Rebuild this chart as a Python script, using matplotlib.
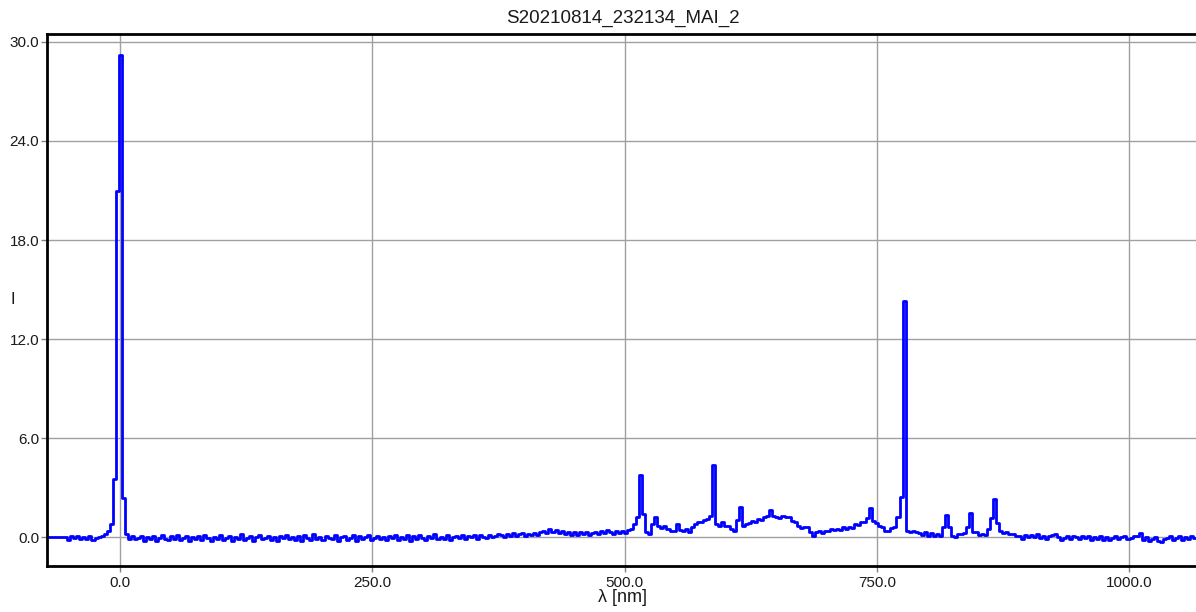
import numpy as np
import matplotlib
matplotlib.use('Agg')
import matplotlib.pyplot as plt

plt.rcParams['font.family'] = ['Liberation Sans', 'DejaVu Sans']

TITLE = 'S20210814_232134_MAI_2'

# spectrum sampled every 3 nm starting at -72 nm (one row = 30 nm)
LAMBDA_START = -72
LAMBDA_STEP = 3
intensity = [
    0.0, 0.0, 0.0, 0.0, 0.0, 0.0, 0.0, -0.15, 0.06, -0.05,         # -72
    0.1, -0.12, 0.0, -0.08, 0.05, -0.16, -0.06, 0.0, 0.08, 0.2,    # -42
    0.4, 0.8, 3.5, 21.0, 29.2, 2.4, 0.2, -0.1, 0.05, -0.12,        # -12
    -0.06, 0.1, -0.2, 0.04, -0.12, 0.08, -0.22, -0.04, 0.12, -0.1,    # 18
    -0.18, 0.06, -0.08, 0.14, -0.16, -0.02, 0.1, -0.2, 0.0, -0.12,    # 48
    0.08, -0.14, 0.16, -0.06, -0.24, 0.04, -0.1, 0.12, -0.18, -0.04,  # 78
    0.1, -0.2, 0.02, -0.08, 0.18, -0.14, -0.04, 0.06, -0.22, 0.0,     # 108
    0.14, -0.12, -0.02, 0.08, -0.18, 0.04, -0.25, 0.1, -0.06, 0.16,   # 138
    -0.1, 0.0, -0.16, 0.06, -0.2, 0.12, -0.04, -0.14, 0.18, -0.08,    # 168
    0.04, -0.18, 0.1, -0.06, -0.12, 0.16, -0.22, 0.02, 0.08, -0.14,   # 198
    -0.02, 0.12, -0.2, 0.06, -0.1, 0.0, 0.14, -0.16, -0.06, 0.1,      # 228
    -0.12, 0.04, -0.18, 0.08, -0.04, 0.16, -0.14, 0.02, -0.08, 0.12,  # 258
    -0.2, 0.06, -0.1, 0.16, -0.04, -0.14, 0.1, -0.06, 0.18, -0.12,    # 288
    0.04, -0.08, 0.14, -0.16, 0.02, 0.1, -0.06, 0.16, -0.1, 0.06,     # 318
    0.0, 0.12, -0.08, 0.16, 0.04, -0.06, 0.14, 0.02, 0.1, 0.18,       # 348
    0.14, 0.04, 0.2, 0.08, 0.24, 0.06, 0.18, 0.26, 0.1, 0.22,         # 378
    0.12, 0.28, 0.14, 0.32, 0.4, 0.26, 0.48, 0.3, 0.44, 0.24,         # 408
    0.4, 0.2, 0.34, 0.16, 0.3, 0.12, 0.3, 0.18, 0.34, 0.14,           # 438
    0.26, 0.34, 0.18, 0.4, 0.26, 0.42, 0.3, 0.22, 0.4, 0.28,          # 468
    0.38, 0.28, 0.42, 0.5, 0.8, 1.2, 3.77, 1.4, 0.3, 0.2,             # 498
    0.8, 1.2, 0.7, 0.55, 0.7, 0.5, 0.4, 0.35, 0.8, 0.45,              # 528
    0.35, 0.5, 0.3, 0.65, 0.8, 0.95, 0.9, 1.05, 1.1, 1.3,             # 558
    4.38, 0.8, 0.7, 0.9, 0.7, 0.7, 0.5, 0.4, 1.05, 1.85,              # 588
    0.7, 0.8, 0.85, 1.0, 0.95, 1.1, 1.05, 1.2, 1.3, 1.65,             # 618
    1.3, 1.25, 1.15, 1.3, 1.2, 1.2, 1.0, 0.95, 0.7, 0.55,             # 648
    0.65, 0.6, 0.3, 0.1, 0.3, 0.35, 0.25, 0.4, 0.4, 0.5,              # 678
    0.45, 0.5, 0.45, 0.6, 0.5, 0.6, 0.55, 0.8, 0.75, 0.9,             # 708
    0.95, 1.15, 1.75, 1.0, 0.85, 0.7, 0.65, 0.4, 0.35, 0.55,          # 738
    0.6, 1.2, 2.45, 14.28, 0.4, 0.3, 0.35, 0.3, 0.25, 0.15,           # 768
    0.3, 0.1, 0.25, 0.05, 0.2, 0.1, 0.6, 1.35, 0.6, 0.05,             # 798
    0.0, 0.2, 0.2, 0.25, 0.65, 1.5, 0.3, 0.3, 0.15, 0.2,              # 828
    0.15, 0.5, 1.15, 2.3, 0.85, 0.4, 0.25, 0.3, 0.22, 0.2,            # 858
    0.1, 0.08, -0.1, 0.12, 0.0, 0.16, 0.04, 0.18, -0.04, 0.1,         # 888
    -0.08, 0.06, 0.12, 0.22, 0.04, -0.16, -0.04, 0.06, -0.12, 0.08,   # 918
    0.0, -0.1, 0.06, -0.04, 0.1, -0.16, 0.02, -0.08, 0.06, -0.14,     # 948
    0.04, -0.18, -0.06, 0.08, -0.12, 0.02, 0.1, -0.08, -0.04, 0.06,   # 978
    0.05, 0.28, -0.14, 0.0, -0.2, -0.08, 0.04, -0.22, -0.28, -0.1,    # 1008
    -0.06, 0.1, -0.16, -0.04, 0.08, -0.18, 0.0, -0.1, 0.06, -0.04,    # 1038
]
wavelength = LAMBDA_START + LAMBDA_STEP * np.arange(len(intensity))

x_ticks = [0, 250, 500, 750, 1000]
y_ticks = [0, 6, 12, 18, 24, 30]

fig = plt.figure(figsize=(11.96, 6.12), dpi=100)
ax = fig.add_axes([47 / 1196, 46 / 612, 1 - 47 / 1196, 532 / 612])

ax.plot(wavelength, intensity, color='#0000ff', lw=2.0, drawstyle='steps-mid')

ax.set_xlim(-72.6, 1066.4)
ax.set_ylim(-1.74, 30.48)
ax.set_xticks(x_ticks)
ax.set_xticklabels([f'{v:.1f}' for v in x_ticks])
ax.set_yticks(y_ticks)
ax.set_yticklabels([f'{v:.1f}' for v in y_ticks])
ax.grid(True, color='#a0a0a0', lw=1)
ax.set_axisbelow(True)

for side in ['left', 'bottom', 'top']:
    ax.spines[side].set_linewidth(2)
    ax.spines[side].set_color('black')
ax.spines['right'].set_visible(False)

ax.tick_params(direction='out', length=4, width=1, color='#808080',
               labelsize=11, labelcolor='#1a1a1a', pad=1.5)
ax.tick_params(axis='x', pad=3)

fig.text(13 / 1196, 1 - 300 / 612, 'I', ha='center', va='center', fontsize=12, color='#1a1a1a')
fig.text(622 / 1196, 1 - 598 / 612, 'λ [nm]', ha='center', va='center', fontsize=13, color='#1a1a1a')
fig.text(623 / 1196, 1 - 18 / 612, TITLE, ha='center', va='center', fontsize=13.5, color='#1a1a1a')

fig.savefig('out.png', dpi=100)
